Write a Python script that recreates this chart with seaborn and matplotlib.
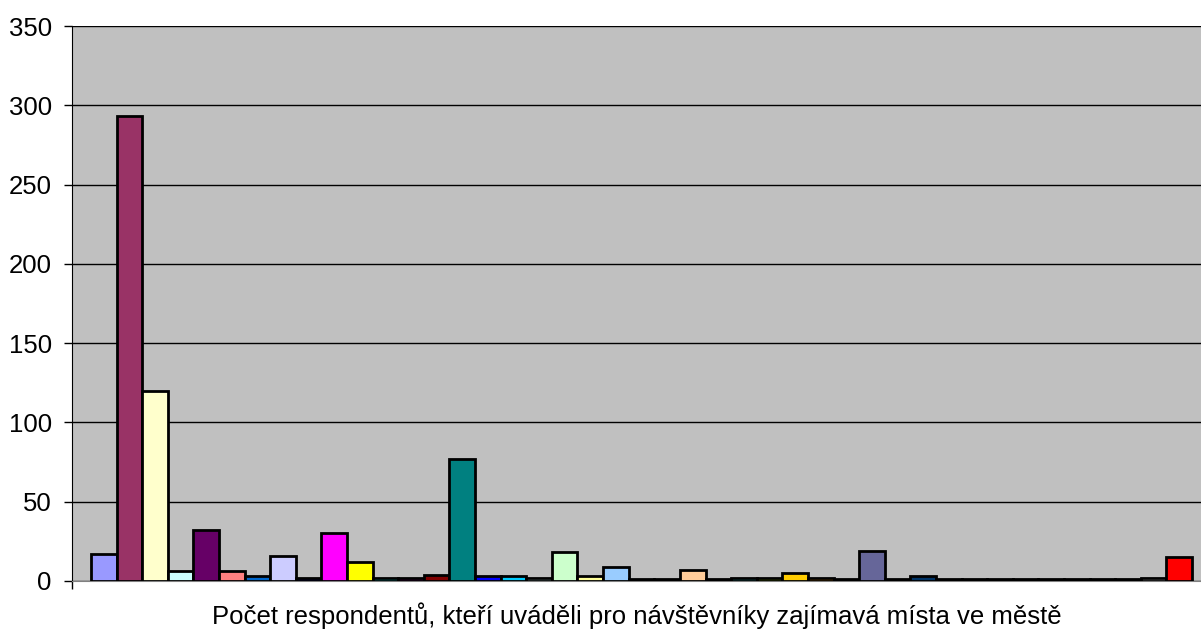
import matplotlib
matplotlib.use("Agg")
import matplotlib.pyplot as plt
import seaborn as sns
import pandas as pd

# one category, 43 places (each bar = one place)
places = [f"m{i+1}" for i in range(43)]
counts = [17, 293, 120, 6, 32, 6, 3, 16, 2, 30,
          12, 2, 2, 4, 77, 3, 3, 2, 18, 3,
          9, 1, 1, 7, 1, 2, 2, 5, 2, 1,
          19, 1, 3, 1, 1, 1, 1, 1, 1, 1,
          1, 2, 15]
# excel 2003 "vary colors by point" palette
colors = ["#9999FF", "#993366", "#FFFFCC", "#CCFFFF", "#660066", "#FF8080", "#0066CC", "#CCCCFF",
          "#000080", "#FF00FF", "#FFFF00", "#00FFFF", "#800080", "#800000", "#008080", "#0000FF",
          "#00CCFF", "#CCFFFF", "#CCFFCC", "#FFFF99", "#99CCFF", "#FF99CC", "#CC99FF", "#FFCC99",
          "#3366FF", "#33CCCC", "#99CC00", "#FFCC00", "#FF9900", "#FF6600", "#666699", "#969696",
          "#003366", "#339966", "#003300", "#333300", "#993300", "#993366", "#333399", "#333333",
          "#000000", "#FFFFFF", "#FF0000"]
xlabel = "Počet respondentů, kteří uváděli pro návštěvníky zajímavá místa ve městě"
yticks = [0, 50, 100, 150, 200, 250, 300, 350]

df = pd.DataFrame({"place": places, "count": counts})

sns.set_style("white")
plt.rcParams['font.family'] = ['Liberation Sans', 'DejaVu Sans']

fig = plt.figure(figsize=(12.01, 6.30), dpi=100)
ax = fig.add_axes([72/1201, 49/630, 1 - 72/1201, 555/630])
ax.set_facecolor("#C0C0C0")

sns.barplot(data=df, x="place", y="count", hue="place", palette=colors, saturation=1,
            width=1.0, edgecolor="black", linewidth=2, legend=False, ax=ax, zorder=3)

ax.set_ylim(0, 350)
ax.set_xlim(-1.24, 42.85)
ax.set_yticks(yticks)
ax.set_yticklabels([str(v) for v in yticks], fontsize=18.5, color="black")
ax.set_xticks([-1.24])
ax.set_xticklabels([""])
ax.tick_params(axis="y", direction="out", length=6, width=1, color="black", pad=8.5, left=True)
ax.tick_params(axis="x", direction="out", length=6, width=1, color="black", bottom=True)
ax.grid(axis="y", color="black", linewidth=1, zorder=0)
ax.set_axisbelow(True)

for s in ["top", "right"]:
    ax.spines[s].set_visible(False)
ax.spines["left"].set_color("black")
ax.spines["bottom"].set_color("#808080")

ax.set_xlabel("")
ax.set_ylabel("")
fig.text((72 + 1201) / 2 / 1201, 1 - 616/630, xlabel, ha="center", va="center",
         fontsize=18.5, color="black")

fig.savefig("out.png", dpi=100)
